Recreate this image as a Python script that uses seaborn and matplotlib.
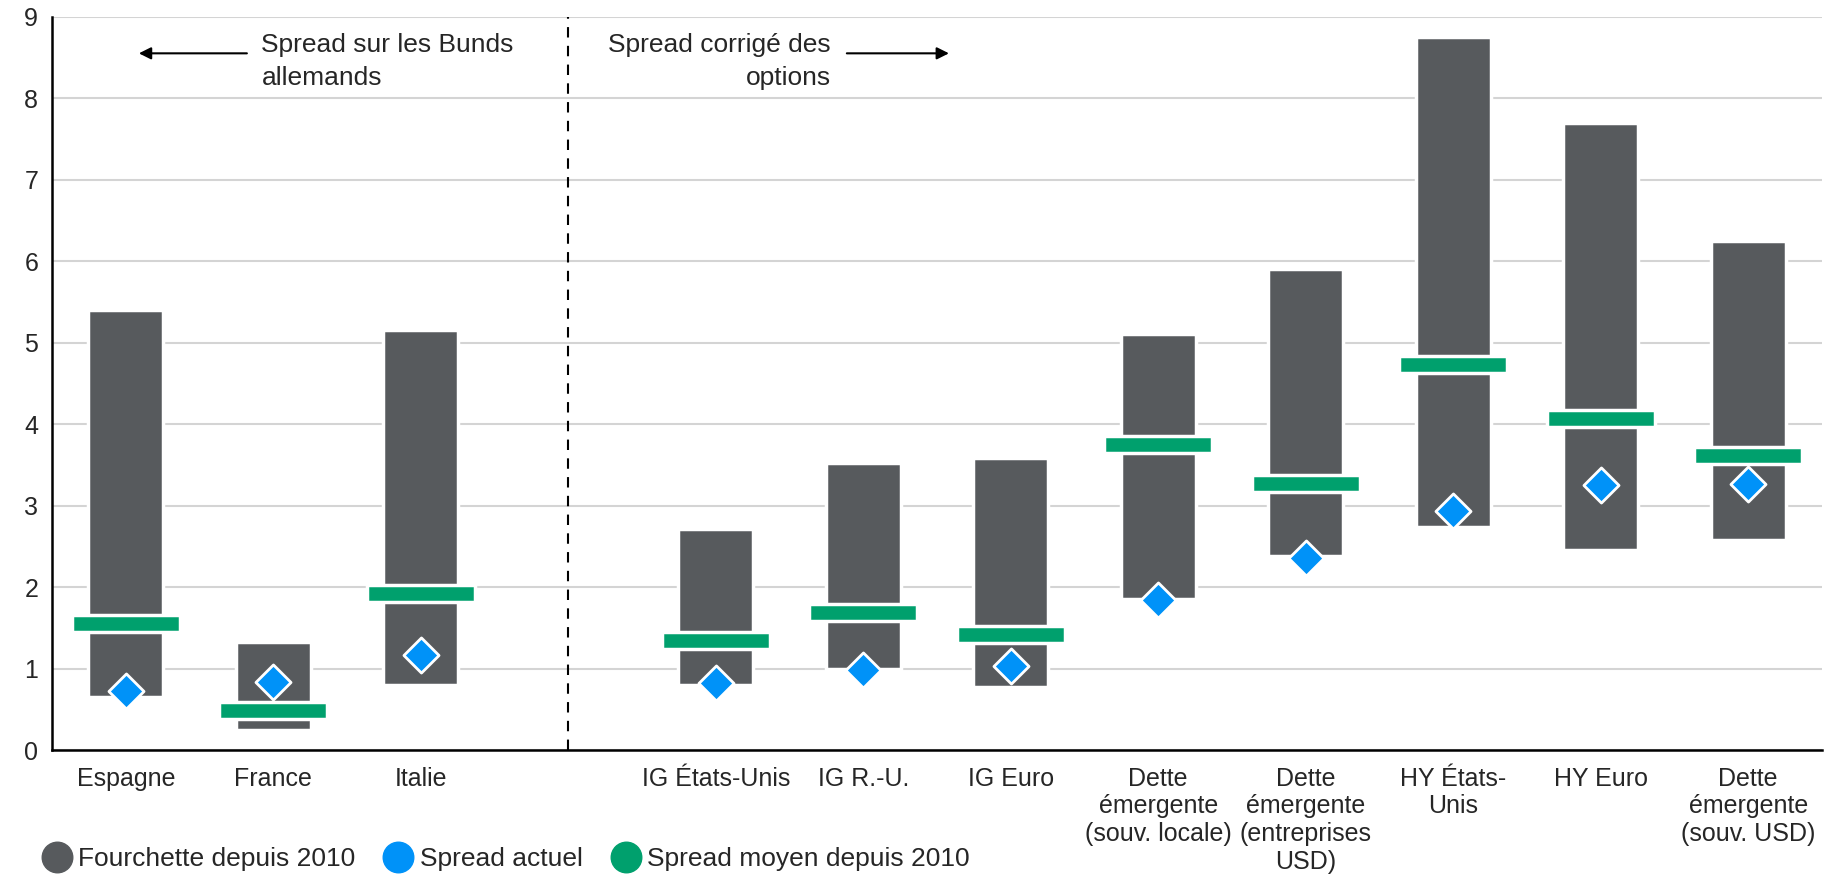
import numpy as np
import pandas as pd
import seaborn as sns
import matplotlib.pyplot as plt
from matplotlib.lines import Line2D

# data
categories = ["Espagne", "France", "Italie", "",
              "IG États-Unis", "IG R.-U.", "IG Euro",
              "Dette\némergente\n(souv. locale)",
              "Dette\némergente\n(entreprises\nUSD)",
              "HY États-\nUnis", "HY Euro",
              "Dette\némergente\n(souv. USD)"]
range_low = [0.65, 0.24, 0.80, np.nan, 0.80, 0.99, 0.77, 1.85, 2.38, 2.74, 2.46, 2.58]
range_high = [5.40, 1.33, 5.16, np.nan, 2.71, 3.52, 3.58, 5.10, 5.90, 8.75, 7.69, 6.25]
spread_now = [0.72, 0.84, 1.17, np.nan, 0.82, 0.98, 1.03, 1.84, 2.36, 2.93, 3.25, 3.26]
spread_avg = [1.55, 0.49, 1.92, np.nan, 1.34, 1.69, 1.42, 3.75, 3.27, 4.73, 4.07, 3.61]

GREY = "#575A5D"
BLUE = "#0092F8"
GREEN = "#00A06D"

df = pd.DataFrame({"cat": categories, "low": range_low, "high": range_high,
                   "now": spread_now, "avg": spread_avg})
df["pos"] = np.arange(len(df))

sns.set_style("white")
plt.rcParams["font.family"] = ["Liberation Sans", "DejaVu Sans"]
fs = 18
fs_big = 19

fig = plt.figure(figsize=(18.32, 8.77), dpi=100)
ax = fig.add_axes([0.0284, 0.1448, 0.9661, 0.8362])

# floating range bars
ax.bar(df["pos"], df["high"] - df["low"], bottom=df["low"], width=0.51,
       color=GREY, edgecolor="white", linewidth=2.5, zorder=2)
# average markers as thin bars
ax.bar(df["pos"], 0.21, bottom=df["avg"] - 0.105, width=0.73,
       color=GREEN, edgecolor="white", linewidth=2.5, zorder=3)
# current spread
sns.scatterplot(data=df, x="pos", y="now", marker="D", s=320, color=BLUE,
                edgecolor="white", linewidth=2, zorder=4, ax=ax, legend=False)

ax.set_xlim(-0.5, len(categories) - 0.5)
ax.set_ylim(0, 9)
ax.set_yticks(range(0, 10))
ax.yaxis.grid(True, color="#D4D4D4", linewidth=1.5, zorder=0)
ax.set_axisbelow(True)
ax.set_xticks(df["pos"])
ax.set_xticklabels(categories, fontsize=fs, linespacing=1.2)
ax.set_xticks(np.arange(-0.5, len(categories)), minor=True)
ax.tick_params(axis="x", which="major", length=0, pad=12)
ax.tick_params(axis="x", which="minor", length=7, width=1.5, color="black", direction="out")
ax.tick_params(axis="y", length=0, labelsize=fs, pad=10)
ax.set_xlabel("")
ax.set_ylabel("")
for s in ["top", "right"]:
    ax.spines[s].set_visible(False)
for s in ["left", "bottom"]:
    ax.spines[s].set_color("black")
    ax.spines[s].set_linewidth(1.8)

# separator
ax.plot([3, 3], [0, 9], color="black", linestyle=(0, (5, 4)), linewidth=1.5, zorder=1)

# annotations
ax.text(0.92, 8.45, "Spread sur les Bunds\nallemands", fontsize=fs_big, ha="left", va="center",
        linespacing=1.5)
ax.annotate("", xy=(0.07, 8.55), xytext=(0.84, 8.55),
            arrowprops=dict(arrowstyle="-|>", color="black", lw=1.5, mutation_scale=18))
ax.text(4.78, 8.45, "Spread corrigé des\noptions", fontsize=fs_big, ha="right", va="center",
        linespacing=1.5, multialignment="right")
ax.annotate("", xy=(5.6, 8.55), xytext=(4.87, 8.55),
            arrowprops=dict(arrowstyle="-|>", color="black", lw=1.5, mutation_scale=18))

handles = [Line2D([], [], marker="o", linestyle="", markersize=22, color=c)
           for c in [GREY, BLUE, GREEN]]
labels = ["Fourchette depuis 2010", "Spread actuel", "Spread moyen depuis 2010"]
fig.legend(handles, labels, loc="lower left", bbox_to_anchor=(0.01, -0.02), ncol=3,
           frameon=False, fontsize=fs_big, handletextpad=0.25, columnspacing=1.1,
           handlelength=1.1)

fig.savefig("out.png", dpi=100)
